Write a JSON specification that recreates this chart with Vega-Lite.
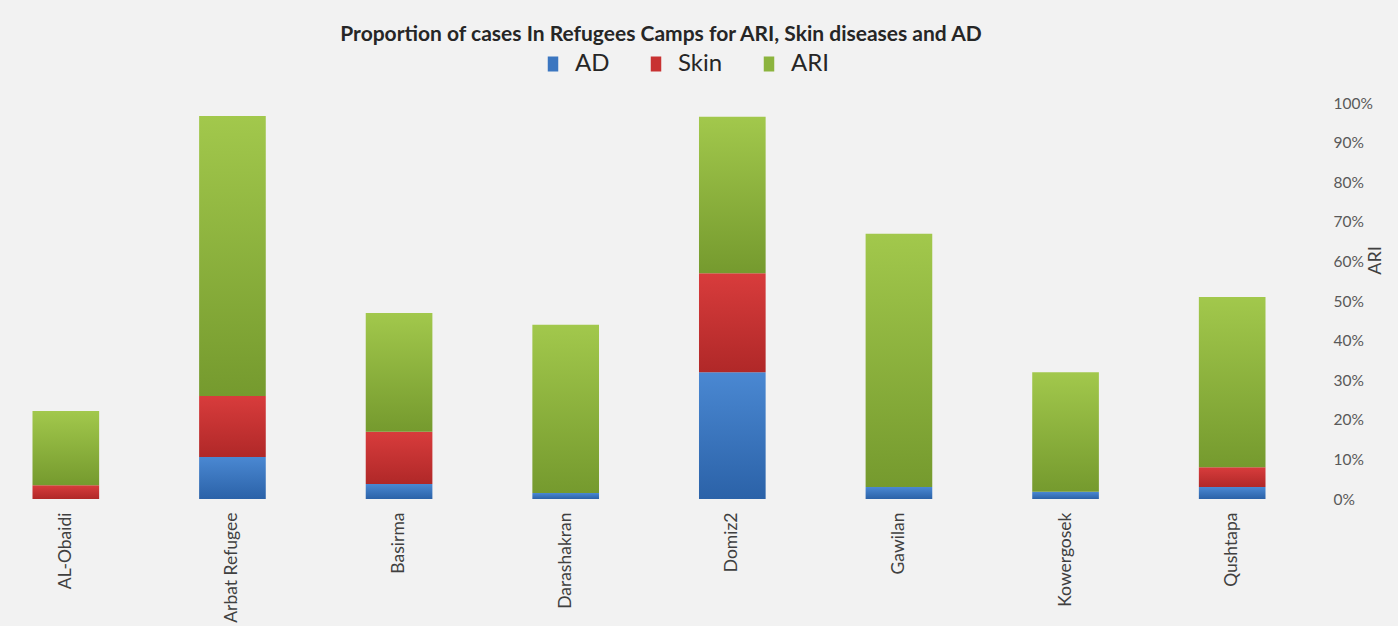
{
  "$schema": "https://vega.github.io/schema/vega-lite/v6.json",
  "width": 1278,
  "height": 396,
  "autosize": "none",
  "padding": {"left": 10, "top": 103, "right": 110, "bottom": 127},
  "background": "#f2f2f2",
  "title": {
    "text": "Proportion of cases In Refugees Camps for ARI, Skin diseases and AD",
    "font": "Lato",
    "fontSize": 21,
    "fontWeight": "bold",
    "color": "#262626",
    "anchor": "middle",
    "offset": 7,
    "dx": 12
  },
  "data": {
    "values": [
      {"camp": "AL-Obaidi", "disease": "AD", "value": 0.0},
      {"camp": "AL-Obaidi", "disease": "Skin", "value": 0.035},
      {"camp": "AL-Obaidi", "disease": "ARI", "value": 0.187},
      {"camp": "Arbat Refugee", "disease": "AD", "value": 0.106},
      {"camp": "Arbat Refugee", "disease": "Skin", "value": 0.154},
      {"camp": "Arbat Refugee", "disease": "ARI", "value": 0.707},
      {"camp": "Basirma", "disease": "AD", "value": 0.038},
      {"camp": "Basirma", "disease": "Skin", "value": 0.132},
      {"camp": "Basirma", "disease": "ARI", "value": 0.30},
      {"camp": "Darashakran", "disease": "AD", "value": 0.015},
      {"camp": "Darashakran", "disease": "Skin", "value": 0.0},
      {"camp": "Darashakran", "disease": "ARI", "value": 0.425},
      {"camp": "Domiz2", "disease": "AD", "value": 0.32},
      {"camp": "Domiz2", "disease": "Skin", "value": 0.25},
      {"camp": "Domiz2", "disease": "ARI", "value": 0.395},
      {"camp": "Gawilan", "disease": "AD", "value": 0.03},
      {"camp": "Gawilan", "disease": "Skin", "value": 0.0},
      {"camp": "Gawilan", "disease": "ARI", "value": 0.64},
      {"camp": "Kowergosek", "disease": "AD", "value": 0.018},
      {"camp": "Kowergosek", "disease": "Skin", "value": 0.0},
      {"camp": "Kowergosek", "disease": "ARI", "value": 0.302},
      {"camp": "Qushtapa", "disease": "AD", "value": 0.03},
      {"camp": "Qushtapa", "disease": "Skin", "value": 0.05},
      {"camp": "Qushtapa", "disease": "ARI", "value": 0.43}
    ]
  },
  "encoding": {
    "x": {
      "field": "camp",
      "type": "nominal",
      "sort": null,
      "scale": {"paddingInner": 0.6, "paddingOuter": 0.135},
      "axis": {
        "title": null,
        "labelAngle": -90,
        "labelFont": "Lato",
        "labelFontSize": 17.5,
        "labelColor": "#404040",
        "labelPadding": 13,
        "domain": false,
        "ticks": false,
        "labelLimit": 200
      }
    },
    "y": {
      "field": "value",
      "type": "quantitative",
      "stack": "zero",
      "scale": {"domain": [0, 1], "nice": false},
      "axis": {
        "orient": "right",
        "title": "ARI",
        "titleAngle": 270,
        "titleFont": "Lato",
        "titleFontWeight": "normal",
        "titleFontSize": 18,
        "titleColor": "#404040",
        "titleX": 87,
        "titleY": 157,
        "titleAlign": "center",
        "titleBaseline": "middle",
        "format": ".0%",
        "values": [0, 0.1, 0.2, 0.3, 0.4, 0.5, 0.6, 0.7, 0.8, 0.9, 1.0],
        "labelFont": "Lato",
        "labelFontSize": 15.5,
        "labelColor": "#595959",
        "labelPadding": 45,
        "domain": false,
        "ticks": false,
        "grid": false
      }
    },
    "color": {
      "field": "disease",
      "type": "nominal",
      "sort": ["AD", "Skin", "ARI"],
      "scale": {
        "domain": ["AD", "Skin", "ARI"],
        "range": ["#3b76c0", "#c83232", "#8cb43e"]
      },
      "legend": {
        "orient": "none",
        "direction": "horizontal",
        "legendX": 531,
        "legendY": -51,
        "padding": 0,
        "title": null,
        "symbolType": "M-0.7,-1H0.7V1H-0.7Z",
        "symbolSize": 225,
        "symbolStrokeWidth": 0,
        "symbolOpacity": 1,
        "labelFont": "Lato",
        "labelFontSize": 24,
        "labelColor": "#262626",
        "labelOffset": 10,
        "columnPadding": 34
      }
    }
  },
  "layer": [
    {
      "mark": {"type": "bar", "opacity": 0}
    },
    {
      "mark": {"type": "bar"},
      "encoding": {
        "fill": {
          "condition": [
            {"test": "datum.disease === 'AD'", "value": {"gradient": "linear", "x1": 0, "y1": 0, "x2": 0, "y2": 1, "stops": [{"offset": 0, "color": "#4a88d2"}, {"offset": 1, "color": "#2b62a8"}]}},
            {"test": "datum.disease === 'Skin'", "value": {"gradient": "linear", "x1": 0, "y1": 0, "x2": 0, "y2": 1, "stops": [{"offset": 0, "color": "#d83c3c"}, {"offset": 1, "color": "#b02828"}]}}
          ],
          "value": {"gradient": "linear", "x1": 0, "y1": 0, "x2": 0, "y2": 1, "stops": [{"offset": 0, "color": "#a2c84c"}, {"offset": 1, "color": "#759a2e"}]}
        }
      }
    }
  ],
  "config": {"view": {"stroke": null}}
}
